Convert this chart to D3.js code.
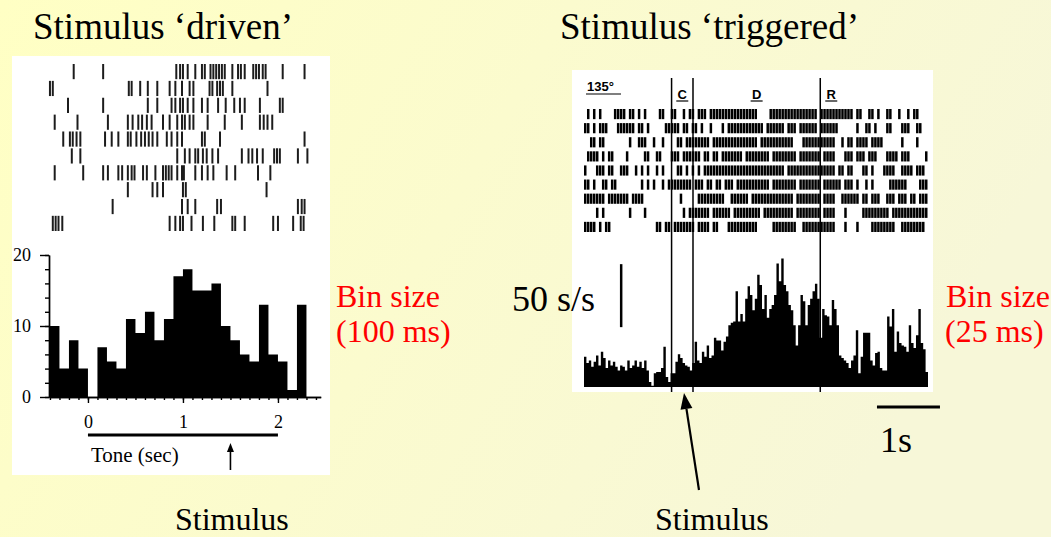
<!DOCTYPE html>
<html>
<head>
<meta charset="utf-8">
<script src="https://cdn.jsdelivr.net/npm/d3@7"></script>
<style>
  body { margin: 0; }
  svg { display: block; }
  text { font-family: "Liberation Serif", "Times New Roman", serif; }
  .axis path, .axis line { stroke: #000; stroke-width: 1.4; }
  .axis text { font-family: "Liberation Serif", serif; font-size: 18px; fill: #000; }
</style>
</head>
<body>
<script>
// ---------- left panel : stimulus 'driven' (tone, 100 ms bins) ----------
// spike times (s) for each of the 10 trials
const drivenRaster = [
  [-0.15, 0.16, 0.93, 0.97, 1.0, 1.05, 1.13, 1.20, 1.23, 1.29, 1.32, 1.35, 1.38, 1.41, 1.44, 1.52, 1.58, 1.61, 1.65, 1.74, 1.77, 1.80, 1.84, 1.87, 2.05, 2.28],
  [-0.40, -0.37, 0.43, 0.46, 0.55, 0.63, 0.73, 0.86, 0.92, 0.99, 1.07, 1.11, 1.28, 1.31, 1.36, 1.39, 1.42, 1.52, 1.89],
  [-0.21, 0.16, 0.63, 0.73, 0.88, 0.92, 0.97, 1.00, 1.05, 1.11, 1.20, 1.26, 1.37, 1.45, 1.54, 1.60, 1.65, 1.81, 2.02, 2.05],
  [-0.35, -0.11, 0.21, 0.42, 0.47, 0.53, 0.57, 0.62, 0.67, 0.79, 0.86, 0.94, 0.99, 1.02, 1.07, 1.11, 1.26, 1.44, 1.62, 1.81, 1.85, 1.89, 1.94],
  [-0.26, -0.19, -0.16, -0.12, -0.08, 0.18, 0.25, 0.32, 0.42, 0.45, 0.51, 0.56, 0.60, 0.64, 0.68, 0.73, 0.83, 0.88, 0.94, 0.99, 1.20, 1.23, 1.39, 2.28],
  [-0.17, -0.08, 0.94, 1.02, 1.07, 1.13, 1.16, 1.21, 1.25, 1.31, 1.37, 1.62, 1.69, 1.73, 1.78, 1.84, 1.96, 1.99, 2.02, 2.21, 2.31],
  [-0.35, -0.05, 0.16, 0.21, 0.32, 0.36, 0.42, 0.46, 0.49, 0.58, 0.62, 0.71, 0.79, 0.82, 0.85, 0.88, 0.94, 0.99, 1.01, 1.13, 1.20, 1.26, 1.32, 1.46, 1.55, 1.79, 1.92],
  [0.42, 0.68, 0.73, 0.79, 1.00, 1.03, 1.88],
  [0.26, 0.99, 1.05, 1.13, 1.36, 1.40, 2.21, 2.25, 2.28],
  [-0.37, -0.34, -0.31, -0.27, 0.86, 0.92, 0.97, 1.00, 1.09, 1.21, 1.33, 1.52, 1.55, 1.65, 1.95, 2.00, 2.16, 2.24, 2.27]
];
const drivenStart = -0.4;   // s, first bin
const drivenBin = 0.1;      // s
const drivenCounts = [10, 4, 8, 4, 0, 7, 5, 4, 11, 9, 12, 8, 11, 17, 18, 15, 15, 16, 10, 8, 6, 5, 13, 6, 5, 1, 13];
const drivenYTicks = [0, 10, 20];
const drivenXTicks = [0, 1, 2];
const toneOnOff = [0, 2];
const drivenArrowTime = 1.5;

// ---------- right panel : stimulus 'triggered' ----------
// one char per time bin across trigDomain, '#' = spike(s) in that bin
const trigRaster = [
  ".#.#.#....####.##.#.#....##..##..#.##.###.################....################.###########.##..##.#..##..#..#.##...",
  "##.#.###...######.##.#.....#####.##.##.#..#...#.############.######.###.######.######......#..##.#...##...###..##..",
  "..##.##........#..###..#..#....##.########.###############.###########...###########..#.##.####.####......#....#...",
  ".####.#.##....#.....##..##...###.######.##.##.#######.########.########.#######.####...###.###.###...####.###.....#",
  "#...###.##..###..#.#.#..#.#....##.#.#.#.###########################.################.##.##...##.#...####..####.###.",
  "##.#..##.##........#.#.#..#.########.###.##.##.###.###########.########.#######.######.###.#..#.#.....######....###.",
  "#######.#######.####............#.....#########..######.##############.########.####..######.##.###..###.###.##.###",
  "....#.#........#....#............#.#######.######.#########.##########.########.####...#.....#########.############",
  "####.#.##...............##.##.#######.####.##...##########.....########..###########...#...#....########..########."
];
const trigDomain = [-1.39, 4.07];   // s, relative to cue line C
const trigRates = [
  24, 19, 21, 16, 20, 25, 17, 28, 23, 15, 21, 17, 20, 16, 13, 17, 16, 13, 21, 15,
  17, 21, 16, 20, 15, 21, 13, 4, 1, 11, 12, 12, 15, 32, 8, 4, 11, 11, 20, 26,
  23, 19, 17, 16, 13, 19, 36, 21, 19, 28, 24, 33, 23, 25, 39, 37, 37, 29, 36, 40,
  49, 51, 52, 76, 52, 58, 52, 70, 80, 73, 61, 70, 89, 81,
  62, 73, 55, 62, 65, 73, 98, 84, 102, 81, 76, 65, 61, 49, 33, 49, 73, 68, 49, 65,
  70, 76, 82, 70, 39, 62, 57, 56, 49, 69, 62, 49, 25, 23, 21, 19, 15, 21, 25, 45,
  11, 24, 43, 43, 43, 21, 17, 27, 28, 15, 13, 13, 56, 48, 62, 28, 44, 35, 33, 32,
  28, 49, 35, 31, 41, 62, 35, 30, 12
];
const trigEvents = ["C", "D", "R"];
const trigEventTimes = [0, 0.34, 2.36];
const rateBar = [47.5, 97.5];   // 50 s/s
const timeBar = [3.26, 4.26];   // 1 s

// ---------- drawing ----------
const W = 1051, H = 537;
const svg = d3.select('body').append('svg').attr('width', W).attr('height', H);

const defs = svg.append('defs');
const grad = defs.append('linearGradient').attr('id', 'bg')
  .attr('x1', 0).attr('x2', 1).attr('y1', 0).attr('y2', 0.3);
grad.append('stop').attr('offset', '0%').attr('stop-color', '#ffffc4');
grad.append('stop').attr('offset', '100%').attr('stop-color', '#f7f7d8');
svg.append('rect').attr('width', W).attr('height', H).attr('fill', 'url(#bg)');

function arrow(g, x1, y1, x2, y2, len, half, sw) {
  const dx = x2 - x1, dy = y2 - y1, L = Math.hypot(dx, dy);
  const ux = dx / L, uy = dy / L;
  const bx = x2 - ux * len, by = y2 - uy * len;
  g.append('line').attr('x1', x1).attr('y1', y1).attr('x2', bx).attr('y2', by)
    .attr('stroke', '#000').attr('stroke-width', sw);
  g.append('path')
    .attr('d', `M${x2},${y2}L${bx - uy * half},${by + ux * half}L${bx + uy * half},${by - ux * half}Z`)
    .attr('fill', '#000');
}

// ===== left panel =====
const gL = svg.append('g');
gL.append('rect').attr('x', 12).attr('y', 56).attr('width', 318).attr('height', 419).attr('fill', '#fff');

const xL = d3.scaleLinear().domain([-0.41, 2.45]).range([49, 320.7]);
const yL = d3.scaleLinear().domain([0, 20]).range([397, 255]);
const rowsL = d3.scaleBand().domain(d3.range(drivenRaster.length)).range([64, 231]).paddingInner(0.1);

drivenRaster.forEach((spikes, i) => {
  gL.append('g').selectAll('line')
    .data(spikes)
    .enter()
    .append('line')
    .attr('x1', d => xL(d)).attr('x2', d => xL(d))
    .attr('y1', rowsL(i)).attr('y2', rowsL(i) + rowsL.bandwidth())
    .attr('stroke', '#1c1c1c').attr('stroke-width', 2);
});

const binsL = drivenCounts.map((v, i) => ({ t: drivenStart + i * drivenBin, v }));
binsL.push({ t: drivenStart + drivenCounts.length * drivenBin, v: drivenCounts[drivenCounts.length - 1] });
const areaL = d3.area().curve(d3.curveStepAfter)
  .x(d => xL(d.t)).y0(yL(0)).y1(d => yL(d.v));
gL.append('path').datum(binsL).attr('d', areaL).attr('fill', '#000');

// y axis
gL.append('g').attr('class', 'axis').attr('transform', `translate(${xL.range()[0]},0)`)
  .call(d3.axisLeft(yL).tickValues(d3.range(0, 21, 2)).tickSize(4).tickFormat('').tickSizeOuter(0));
gL.append('g').attr('class', 'axis').attr('transform', `translate(${xL.range()[0]},0)`)
  .call(d3.axisLeft(yL).tickValues(drivenYTicks).tickFormat(d3.format('d'))
    .tickSize(9).tickPadding(9).tickSizeOuter(0));

// x axis
gL.append('g').attr('class', 'axis').attr('transform', `translate(0,${yL(0)})`)
  .call(d3.axisBottom(xL).tickValues(d3.range(-4, 25).map(i => i / 10)).tickSize(3).tickFormat('').tickSizeOuter(0));
gL.append('g').attr('class', 'axis').attr('transform', `translate(0,${yL(0)})`)
  .call(d3.axisBottom(xL).tickValues(drivenXTicks).tickFormat(d3.format('d'))
    .tickSize(6).tickPadding(12).tickSizeOuter(0));

// tone bar, label, arrow
gL.append('line').attr('x1', xL(toneOnOff[0])).attr('x2', xL(toneOnOff[1]))
  .attr('y1', 435).attr('y2', 435).attr('stroke', '#000').attr('stroke-width', 3.2);
gL.append('text').text('Tone (sec)').attr('x', xL(0) + 3).attr('y', 462).attr('font-size', 21);
arrow(gL, xL(drivenArrowTime), 470, xL(drivenArrowTime), 443, 9, 3.5, 1.6);

// ===== right panel =====
const gR = svg.append('g');
gR.append('rect').attr('x', 572).attr('y', 70).attr('width', 361).attr('height', 322).attr('fill', '#fff');

const xR = d3.scaleLinear().domain(trigDomain).range([584, 928]);
const yR = d3.scaleLinear().domain([0, 50]).range([387, 324]);
const rowsR = d3.scaleBand().domain(d3.range(trigRaster.length)).range([109, 232]).paddingInner(0.28);

const rasterStep = (trigDomain[1] - trigDomain[0]) / trigRaster[0].length;
trigRaster.forEach((row, i) => {
  const spikes = [];
  for (let k = 0; k < row.length; k++) if (row[k] === '#') spikes.push(trigDomain[0] + k * rasterStep);
  gR.append('g').selectAll('rect')
    .data(spikes)
    .enter()
    .append('rect')
    .attr('x', d => xR(d))
    .attr('width', d => xR(d + rasterStep) - xR(d) - 0.5)
    .attr('y', rowsR(i))
    .attr('height', rowsR.bandwidth())
    .attr('fill', '#000');
});

const binR = (trigDomain[1] - trigDomain[0]) / trigRates.length;
const binsR = trigRates.map((v, i) => ({ t: trigDomain[0] + i * binR, v }));
binsR.push({ t: trigDomain[1], v: trigRates[trigRates.length - 1] });
const areaR = d3.area().curve(d3.curveStepAfter)
  .x(d => xR(d.t)).y0(yR(0)).y1(d => yR(d.v));
gR.append('path').datum(binsR).attr('d', areaR).attr('fill', '#000');

// epoch lines and labels
gR.selectAll('line.ev')
  .data(trigEventTimes)
  .enter()
  .append('line')
  .attr('class', 'ev')
  .attr('x1', d => xR(d)).attr('x2', d => xR(d))
  .attr('y1', 78).attr('y2', 392)
  .attr('stroke', '#000').attr('stroke-width', 1.5);

const labelX = trigEventTimes.map((t, i) =>
  i < trigEventTimes.length - 1 ? (xR(t) + xR(trigEventTimes[i + 1])) / 2 : xR(t) + 11);
trigEvents.forEach((lab, i) => {
  gR.append('text').text(lab)
    .attr('x', labelX[i]).attr('y', 99)
    .attr('text-anchor', 'middle')
    .style('font-family', '"Liberation Sans", Arial, sans-serif')
    .attr('font-weight', 'bold').attr('font-size', 13);
  gR.append('line').attr('x1', labelX[i] - 6).attr('x2', labelX[i] + 6)
    .attr('y1', 101).attr('y2', 101).attr('stroke', '#000').attr('stroke-width', 1.2);
});
gR.append('text').text('135°').attr('x', 587).attr('y', 91)
  .style('font-family', '"Liberation Sans", Arial, sans-serif')
  .attr('font-weight', 'bold').attr('font-size', 13);
gR.append('line').attr('x1', 586).attr('x2', 621).attr('y1', 94).attr('y2', 94)
  .attr('stroke', '#000').attr('stroke-width', 1.2);

// scale bars
gR.append('line').attr('x1', xR(-0.8)).attr('x2', xR(-0.8))
  .attr('y1', yR(rateBar[0])).attr('y2', yR(rateBar[1]))
  .attr('stroke', '#000').attr('stroke-width', 2.5);
svg.append('line').attr('x1', xR(timeBar[0])).attr('x2', xR(timeBar[1]))
  .attr('y1', 407).attr('y2', 407).attr('stroke', '#000').attr('stroke-width', 3);

// ===== slide texts =====
const txt = (s, x, y, size, color) => svg.append('text').text(s)
  .attr('x', x).attr('y', y).attr('font-size', size).attr('fill', color || '#000');

txt('Stimulus \u2018driven\u2019', 33, 39, 37);
txt('Stimulus \u2018triggered\u2019', 560, 39, 37);
txt('Bin size', 336, 307, 32, '#ff0000');
txt('(100 ms)', 336, 342, 32, '#ff0000');
txt('Bin size', 946, 307, 32, '#ff0000');
txt('(25 ms)', 945, 342, 32, '#ff0000');
txt('50 s/s', 512, 311, 36);
txt('1s', 880, 452, 36);
txt('Stimulus', 175, 530, 32);
txt('Stimulus', 655, 530, 32);

arrow(svg, 699, 490, 684, 393, 16, 6, 2.2);
</script>
</body>
</html>
